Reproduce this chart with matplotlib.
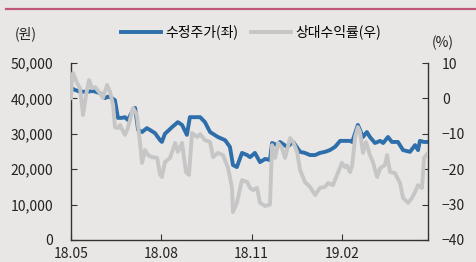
import matplotlib
matplotlib.use("Agg")
import matplotlib.pyplot as plt
from matplotlib.lines import Line2D

plt.rcParams['font.family'] = ['Noto Sans CJK KR', 'DejaVu Sans']

# months since 2018-05
price_x = [0.00, 0.13, 0.30, 0.56, 0.73, 0.96, 1.13, 1.23, 1.36, 1.46, 1.56, 1.69, 1.79, 1.89,
           2.03, 2.13, 2.23, 2.36, 2.52, 2.62, 2.79, 2.96, 3.02, 3.12, 3.36, 3.55, 3.69, 3.85,
           3.95, 4.29, 4.45, 4.62, 4.88, 5.12, 5.28, 5.38, 5.51, 5.68, 5.85, 5.95, 6.11, 6.28,
           6.45, 6.61, 6.68, 6.84, 6.94, 7.18, 7.38, 7.61, 7.77, 7.94, 8.11, 8.27, 8.44, 8.60,
           8.77, 8.94, 9.10, 9.27, 9.34, 9.44, 9.53, 9.60, 9.70, 9.83, 9.93, 10.10, 10.27,
           10.37, 10.53, 10.66, 10.86, 11.03, 11.26, 11.43, 11.53, 11.59, 11.73, 11.86]
price = [43000, 42400, 41900, 41900, 42100, 41500, 40100, 40500, 40100, 39500, 34500, 34500,
         34700, 33900, 36200, 37300, 31100, 30500, 31600, 31100, 30200, 28200, 27700, 30000,
         31900, 33300, 32500, 29700, 34700, 34700, 33300, 30500, 29100, 28200, 26300, 21200,
         20600, 24600, 24000, 23400, 24600, 22000, 22900, 22600, 27400, 26800, 27700, 26300,
         27700, 24900, 24600, 24000, 24000, 24600, 24900, 25400, 26300, 28000, 28000, 28000,
         27700, 30200, 32500, 31100, 29100, 30500, 29100, 27400, 28000, 27400, 29100, 27700,
         27700, 25400, 24900, 26800, 25400, 28000, 27700, 27700]

rel_x = [0.00, 0.03, 0.07, 0.20, 0.30, 0.40, 0.50, 0.60, 0.70, 0.80, 0.96, 1.06, 1.20, 1.30,
         1.40, 1.46, 1.56, 1.63, 1.79, 1.89, 2.06, 2.19, 2.29, 2.36, 2.46, 2.56, 2.69, 2.86,
         2.96, 3.02, 3.12, 3.29, 3.46, 3.55, 3.69, 3.82, 3.92, 4.02, 4.19, 4.29, 4.45, 4.62,
         4.72, 4.88, 5.05, 5.22, 5.35, 5.38, 5.51, 5.68, 5.85, 5.95, 6.05, 6.18, 6.28, 6.45,
         6.61, 6.68, 6.78, 6.88, 7.01, 7.11, 7.28, 7.38, 7.51, 7.61, 7.77, 7.94, 8.11, 8.27,
         8.44, 8.54, 8.70, 8.84, 9.00, 9.10, 9.17, 9.27, 9.34, 9.44, 9.53, 9.60, 9.70, 9.80,
         9.93, 10.03, 10.17, 10.27, 10.43, 10.50, 10.60, 10.76, 10.93, 11.03, 11.20, 11.33,
         11.43, 11.53, 11.66, 11.73, 11.86]
rel = [-0.5, 5.0, 7.2, 4.4, 2.9, -4.7, 1.0, 5.2, 2.9, 3.2, 1.5, 0.1, 3.8, 1.8,
       -1.9, -8.1, -8.4, -7.5, -10.3, -8.4, -2.7, -4.7, -12.3, -18.2, -14.6, -16.0, -16.6, -16.8,
       -21.5, -22.2, -18.0, -16.8, -12.6, -15.1, -12.6, -20.8, -21.6, -9.8, -10.9, -10.1, -11.8, -12.3,
       -16.6, -15.4, -16.0, -19.7, -25.3, -32.1, -29.5, -23.1, -23.6, -25.3, -25.9, -25.3, -29.5, -30.4,
       -30.0, -13.2, -16.8, -12.6, -14.0, -16.8, -11.2, -12.3, -15.1, -20.2, -23.6, -25.0, -27.3, -25.3,
       -25.0, -23.9, -24.5, -21.6, -18.2, -19.4, -19.0, -20.8, -19.0, -10.9, -8.1, -9.5, -15.4, -12.3,
       -16.0, -18.0, -22.2, -19.7, -18.8, -16.0, -20.8, -21.1, -23.9, -28.1, -29.5, -28.1,
       -26.4, -24.5, -25.3, -16.8, -15.4]

tick_pos = [0, 3, 6, 9]
tick_labels = ['18.05', '18.08', '18.11', '19.02']

bg = '#e8e7e5'
blue = '#2e6eaa'
gray = '#c6c6c6'
axc = '#333333'
fs = 10

fig = plt.figure(figsize=(4.77, 2.62), dpi=100, facecolor=bg)
ax = fig.add_axes([0.1488, 0.084, 0.7485, 0.6755])
ax.set_facecolor(bg)
ax2 = ax.twinx()

ax.plot(price_x, price, color=blue, linewidth=2.8, solid_capstyle='butt', zorder=2)
ax2.plot(rel_x, rel, color=gray, linewidth=2.8, solid_capstyle='butt', zorder=3)

ax.set_xlim(0, 11.86)
ax.set_ylim(0, 50000)
ax2.set_ylim(-40, 10)
ax.set_yticks(range(0, 50001, 10000))
ax.set_yticklabels([f'{v:,}' for v in range(0, 50001, 10000)])
ax2.set_yticks(range(-40, 11, 10))
ax.set_xticks(tick_pos)
ax.set_xticklabels(tick_labels)

for a in (ax, ax2):
    a.spines['top'].set_visible(False)
    for s in ('left', 'right', 'bottom'):
        a.spines[s].set_color(axc)
        a.spines[s].set_linewidth(1.0)
ax.spines['right'].set_visible(False)
ax2.spines['left'].set_visible(False)
ax2.spines['bottom'].set_visible(False)

ax.tick_params(axis='y', direction='in', length=4, pad=13, labelsize=fs, colors=axc)
ax.tick_params(axis='x', direction='in', length=4, pad=5, labelsize=fs, colors=axc)
ax2.tick_params(axis='y', direction='in', length=4, pad=10, labelsize=fs, colors=axc)
for lbl in ax.get_xticklabels() + ax.get_yticklabels() + ax2.get_yticklabels():
    lbl.set_color('#222222')

fig.text(26 / 477, 1 - 34 / 262, '(원)', ha='center', va='center', fontsize=fs, color='#222222')
fig.text(443 / 477, 1 - 43 / 262, '(%)', ha='center', va='center', fontsize=fs, color='#222222')

handles = [Line2D([], [], color=blue, linewidth=2.8),
           Line2D([], [], color=gray, linewidth=2.8)]
fig.legend(handles, ['수정주가(좌)', '상대수익률(우)'], loc='center',
           bbox_to_anchor=(251 / 477, 1 - 32 / 262), ncol=2, frameon=False,
           fontsize=fs, handlelength=2.9, handletextpad=0.3, columnspacing=0.9)

fig.add_artist(Line2D([6 / 477, 1], [1 - 9 / 262, 1 - 9 / 262], color='#c0587a', linewidth=1.6))

fig.savefig('out.png', dpi=100, facecolor=bg)
